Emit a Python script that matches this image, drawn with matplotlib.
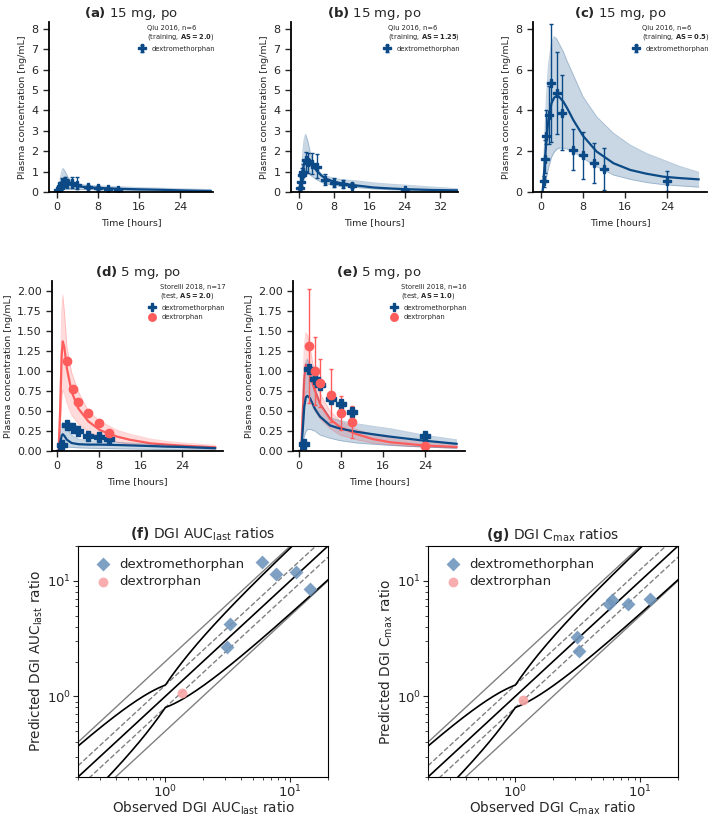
import numpy as np
import matplotlib
matplotlib.use("Agg")
from matplotlib import pyplot as plt

BLUE = "#0b4a86"
RED = "#ff5c5c"
TXT = "#262626"
plt.rcParams["text.color"] = TXT
plt.rcParams["axes.labelcolor"] = TXT
plt.rcParams["xtick.color"] = TXT
plt.rcParams["ytick.color"] = TXT

# ---- Qiu 2016, 15 mg po (dextromethorphan) ----
obs_t_qiu = [0.25, 0.5, 0.75, 1, 1.5, 2, 3, 4, 6, 8, 10, 12, 24]

# panel a (AS = 2.0)
sim_t_a = [0, 0.3, 0.6, 0.9, 1.2, 1.6, 2.2, 3, 4, 6, 8, 12, 16, 20, 24, 30]
sim_med_a = [0, 0.05, 0.2, 0.33, 0.4, 0.41, 0.38, 0.33, 0.28, 0.23, 0.2, 0.16, 0.13, 0.11, 0.08, 0.05]
sim_hi_a = [0, 0.15, 0.6, 1.0, 1.16, 1.0, 0.7, 0.5, 0.4, 0.33, 0.3, 0.26, 0.22, 0.19, 0.16, 0.12]
sim_lo_a = [0, 0.01, 0.05, 0.1, 0.13, 0.14, 0.14, 0.13, 0.13, 0.12, 0.11, 0.09, 0.07, 0.06, 0.04, 0.03]
obs_a = [0.12, 0.2, 0.3, 0.45, 0.55, 0.42, 0.45, 0.35, 0.24, 0.2, 0.15, 0.12]
obs_lo_a = [0.05, 0.08, 0.12, 0.2, 0.3, 0.22, 0.2, 0.15, 0.15, 0.12, 0.08, 0.06]
obs_hi_a = [0.2, 0.35, 0.5, 0.7, 0.75, 0.62, 0.72, 0.75, 0.33, 0.27, 0.2, 0.17]

# panel b (AS = 1.25)
sim_t_b = [0, 0.3, 0.6, 0.9, 1.2, 1.5, 2, 2.6, 3.2, 4, 5, 6, 8, 10, 13, 17, 21, 24, 30, 36]
sim_med_b = [0, 0.15, 0.6, 1.1, 1.45, 1.58, 1.55, 1.42, 1.25, 1.05, 0.82, 0.66, 0.5, 0.41, 0.32, 0.22, 0.17, 0.14, 0.1, 0.08]
sim_hi_b = [0, 0.4, 1.2, 2.1, 2.65, 2.83, 2.5, 1.9, 1.45, 1.15, 0.92, 0.8, 0.67, 0.6, 0.55, 0.45, 0.38, 0.34, 0.25, 0.16]
sim_lo_b = [0, 0.05, 0.2, 0.45, 0.7, 0.85, 0.9, 0.82, 0.72, 0.6, 0.48, 0.4, 0.32, 0.27, 0.22, 0.15, 0.11, 0.09, 0.06, 0.04]
obs_b = [0.2, 0.5, 0.85, 1.0, 1.55, 1.45, 1.37, 1.22, 0.59, 0.45, 0.38, 0.3, 0.12]
obs_lo_b = [0.1, 0.3, 0.55, 0.75, 1.0, 0.95, 0.9, 0.7, 0.35, 0.25, 0.2, 0.18, 0.07]
obs_hi_b = [0.3, 0.75, 1.2, 1.35, 1.95, 1.9, 1.9, 1.85, 0.9, 0.7, 0.6, 0.45, 0.17]

# panel c (AS = 0.5)
sim_t_c = [0, 0.3, 0.5, 0.75, 1, 1.4, 2, 2.5, 3, 3.5, 4.25, 5, 6.15, 8, 10.6, 13.8, 17, 20, 23.3, 26.5, 30]
sim_med_c = [0, 0, 0.6, 1.57, 2.4, 3.53, 4.35, 4.62, 4.72, 4.65, 4.43, 4.1, 3.53, 2.75, 1.98, 1.41, 1.08, 0.9, 0.75, 0.68, 0.62]
sim_hi_c = [0, 0, 1.4, 3.0, 4.5, 6.2, 7.3, 7.62, 7.5, 7.25, 6.88, 6.4, 5.74, 4.67, 3.69, 2.88, 2.3, 1.9, 1.57, 1.25, 0.97]
sim_lo_c = [0, 0, 0.15, 0.35, 0.65, 1.15, 1.7, 1.95, 2.1, 2.15, 2.15, 2.1, 1.98, 1.65, 1.24, 0.83, 0.62, 0.47, 0.36, 0.3, 0.24]
obs_c = [0.52, 1.63, 2.72, 3.77, 5.33, 4.84, 3.89, 2.07, 1.8, 1.44, 1.14, 0.55]
obs_lo_c = [0.25, 0.95, 2.35, 2.35, 2.47, 2.84, 2.06, 1.08, 0.64, 0.46, 0.1, 0.03]
obs_hi_c = [0.8, 2.55, 4.0, 5.2, 8.23, 6.86, 5.73, 3.09, 2.96, 2.39, 2.17, 1.04]

# ---- Storelli 2018, 5 mg po ----
# panel d (AS = 2.0)
sim_t_d = [0, 0.3, 0.6, 0.9, 1.1, 1.4, 1.9, 2.8, 4.1, 6, 8.25, 11.5, 14, 17.9, 21, 24.2, 30.3]
dxo_med_d = [0, 0, 0.5, 1.2, 1.37, 1.3, 1.03, 0.74, 0.53, 0.37, 0.26, 0.18, 0.14, 0.096, 0.08, 0.066, 0.046]
dxo_hi_d = [0, 0, 0.8, 1.75, 1.95, 1.75, 1.3, 0.98, 0.74, 0.5, 0.37, 0.26, 0.21, 0.15, 0.12, 0.1, 0.07]
dxo_lo_d = [0, 0, 0.25, 0.65, 0.76, 0.72, 0.6, 0.45, 0.34, 0.24, 0.17, 0.11, 0.085, 0.06, 0.05, 0.04, 0.025]
dxm_med_d = [0, 0, 0.1, 0.19, 0.21, 0.19, 0.14, 0.1, 0.085, 0.08, 0.08, 0.075, 0.07, 0.062, 0.055, 0.05, 0.035]
dxm_hi_d = [0, 0, 0.18, 0.33, 0.36, 0.34, 0.28, 0.2, 0.15, 0.13, 0.12, 0.11, 0.1, 0.085, 0.075, 0.065, 0.045]
dxm_lo_d = [0, 0, 0.03, 0.07, 0.08, 0.07, 0.05, 0.045, 0.04, 0.035, 0.032, 0.028, 0.025, 0.02, 0.017, 0.014, 0.01]
obs_t_dxm_d = [1, 2, 3, 4, 6, 8, 10]
obs_dxm_d = [0.07, 0.33, 0.29, 0.25, 0.19, 0.175, 0.15]
obs_t_dxo_d = [2, 3, 4, 6, 8, 10]
obs_dxo_d = [1.13, 0.78, 0.61, 0.48, 0.35, 0.22]

# panel e (AS = 1.0)
sim_t_e = [0, 0.4, 0.7, 1.0, 1.3, 1.6, 2.1, 3, 4, 5.9, 7.8, 11, 14, 17.3, 20.5, 23.7, 30]
dxo_med_e = [0, 0, 0.45, 0.9, 1.08, 1.05, 0.95, 0.76, 0.59, 0.4, 0.3, 0.21, 0.15, 0.11, 0.09, 0.07, 0.05]
dxo_hi_e = [0, 0, 0.7, 1.3, 1.48, 1.45, 1.3, 0.95, 0.72, 0.5, 0.38, 0.27, 0.21, 0.16, 0.13, 0.11, 0.08]
dxo_lo_e = [0, 0, 0.2, 0.55, 0.72, 0.75, 0.65, 0.5, 0.4, 0.28, 0.2, 0.14, 0.1, 0.08, 0.06, 0.05, 0.035]
dxm_med_e = [0, 0, 0.25, 0.55, 0.67, 0.69, 0.66, 0.53, 0.43, 0.32, 0.28, 0.24, 0.21, 0.18, 0.155, 0.13, 0.09]
dxm_hi_e = [0, 0, 0.5, 0.95, 1.12, 1.15, 1.05, 0.8, 0.6, 0.42, 0.38, 0.34, 0.31, 0.28, 0.24, 0.2, 0.14]
dxm_lo_e = [0, 0, 0.08, 0.18, 0.24, 0.27, 0.27, 0.25, 0.2, 0.16, 0.13, 0.1, 0.085, 0.07, 0.06, 0.05, 0.035]
obs_t_dxm_e = [1, 2, 3, 4, 6, 8, 10, 24]
obs_dxm_e = [0.09, 1.02, 0.90, 0.82, 0.65, 0.59, 0.49, 0.19]
obs_t_dxo_e = [2, 3, 4, 6, 8, 10, 24]
obs_dxo_e = [1.31, 1.0, 0.85, 0.70, 0.47, 0.36, 0.06]
obs_lo_dxo_e = [0.6, 0.57, 0.55, 0.36, 0.26, 0.16, 0.05]
obs_hi_dxo_e = [2.03, 1.43, 1.15, 1.03, 0.69, 0.56, 0.07]

# ---- DGI ratios (observed, predicted) ----
auc_obs_dxm = [5.9, 7.7, 11.0, 14.4, 3.3, 3.13]
auc_pred_dxm = [14.6, 11.4, 12.0, 8.5, 4.2, 2.69]
auc_obs_dxo = [1.35]
auc_pred_dxo = [1.07]
cmax_obs_dxm = [5.6, 5.9, 8.0, 11.9, 3.09, 3.25]
cmax_pred_dxm = [6.3, 6.8, 6.25, 6.9, 3.24, 2.47]
cmax_obs_dxo = [1.16]
cmax_pred_dxo = [0.93]


def style_pk(ax, xlim, ylim, xticks, yticks, title):
    ax.set_xlim(xlim)
    ax.set_ylim(ylim)
    ax.set_xticks(xticks)
    ax.set_yticks(yticks)
    for s in ["top", "right"]:
        ax.spines[s].set_visible(False)
    for s in ["left", "bottom"]:
        ax.spines[s].set_linewidth(1.3)
    ax.tick_params(direction="out", length=4, width=1, labelsize=8, pad=3.5)
    ax.set_xlabel("Time [hours]", fontsize=6.8, labelpad=4)
    ax.set_ylabel("Plasma concentration [ng/mL]", fontsize=6.8, labelpad=3)
    ax.set_title(title, fontsize=9.5, pad=3)


def band(ax, t, med, lo, hi, color):
    ax.fill_between(t, lo, hi, color=color, alpha=0.22, lw=0)
    ax.plot(t, lo, color=color, alpha=0.25, lw=0.7)
    ax.plot(t, hi, color=color, alpha=0.25, lw=0.7)
    ax.plot(t, med, color=color, lw=1.6)


def errpts(ax, t, y, lo, hi, color, marker, label, ms):
    if lo is None:
        yerr = None
    else:
        yerr = [np.array(y) - np.array(lo), np.array(hi) - np.array(y)]
    ax.errorbar(t, y, yerr=yerr, fmt=marker, color=color, ms=ms, elinewidth=1,
                capsize=1.5, capthick=1, label=label)


def pk_legend(ax, title):
    ax.legend(title=title, loc="upper right", bbox_to_anchor=(1.04, 1.01),
              fontsize=4.9, title_fontsize=4.9, frameon=False, alignment="right",
              handletextpad=0.4, borderaxespad=0.3, markerscale=0.9)


fig = plt.figure(figsize=(7.09, 8.16), dpi=100)
W, H = 709.0, 816.0


def add_ax(l, r, t, b):
    return fig.add_axes([l / W, (H - b) / H, (r - l) / W, (b - t) / H])


# (a)
ax = add_ax(49, 213, 22, 192)
band(ax, sim_t_a, sim_med_a, sim_lo_a, sim_hi_a, BLUE)
errpts(ax, obs_t_qiu[:12], obs_a, obs_lo_a, obs_hi_a, BLUE, "P", "dextromethorphan", 6)
style_pk(ax, (-1.56, 30.44), (0, 8.33), [0, 8, 16, 24], range(0, 9), r"$\bf{(a)}$ 15 mg, po")
pk_legend(ax, "Qiu 2016, n=6\n(training, $\\bf{AS=2.0}$)")

# (b)
ax = add_ax(291, 458, 22, 192)
band(ax, sim_t_b, sim_med_b, sim_lo_b, sim_hi_b, BLUE)
errpts(ax, obs_t_qiu, obs_b, obs_lo_b, obs_hi_b, BLUE, "P", "dextromethorphan", 6)
style_pk(ax, (-1.82, 36.1), (0, 8.33), [0, 8, 16, 24, 32], range(0, 9), r"$\bf{(b)}$ 15 mg, po")
pk_legend(ax, "Qiu 2016, n=6\n(training, $\\bf{AS=1.25}$)")

# (c)
ax = add_ax(533, 707, 22, 192)
band(ax, sim_t_c, sim_med_c, sim_lo_c, sim_hi_c, BLUE)
errpts(ax, obs_t_qiu[1:], obs_c, obs_lo_c, obs_hi_c, BLUE, "P", "dextromethorphan", 6)
style_pk(ax, (-1.52, 31.6), (0, 8.33), [0, 8, 16, 24], [0, 2, 4, 6, 8], r"$\bf{(c)}$ 15 mg, po")
pk_legend(ax, "Qiu 2016, n=6\n(training, $\\bf{AS=0.5}$)")

# (d)
ax = add_ax(52, 223, 281, 451)
band(ax, sim_t_d, dxo_med_d, dxo_lo_d, dxo_hi_d, RED)
band(ax, sim_t_d, dxm_med_d, dxm_lo_d, dxm_hi_d, BLUE)
errpts(ax, obs_t_dxm_d, obs_dxm_d, None, None, BLUE, "P", "dextromethorphan", 7)
errpts(ax, obs_t_dxo_d, obs_dxo_d, None, None, RED, "o", "dextrorphan", 6)
style_pk(ax, (-0.96, 31.8), (0, 2.125), [0, 8, 16, 24], np.arange(0, 2.01, 0.25), r"$\bf{(d)}$ 5 mg, po")
ax.yaxis.set_major_formatter(matplotlib.ticker.FormatStrFormatter("%.2f"))
pk_legend(ax, "Storelli 2018, n=17\n(test, $\\bf{AS=2.0}$)")

# (e)
ax = add_ax(293, 465, 281, 451)
band(ax, sim_t_e, dxo_med_e, dxo_lo_e, dxo_hi_e, RED)
band(ax, sim_t_e, dxm_med_e, dxm_lo_e, dxm_hi_e, BLUE)
errpts(ax, obs_t_dxm_e, obs_dxm_e, None, None, BLUE, "P", "dextromethorphan", 7)
errpts(ax, obs_t_dxo_e, obs_dxo_e, obs_lo_dxo_e, obs_hi_dxo_e, RED, "o", "dextrorphan", 6)
style_pk(ax, (-1.14, 31.6), (0, 2.125), [0, 8, 16, 24], np.arange(0, 2.01, 0.25), r"$\bf{(e)}$ 5 mg, po")
ax.yaxis.set_major_formatter(matplotlib.ticker.FormatStrFormatter("%.2f"))
pk_legend(ax, "Storelli 2018, n=16\n(test, $\\bf{AS=1.0}$)")


def ratio_plot(ax, obs_dxm, pred_dxm, obs_dxo, pred_dxo, title, xlabel, ylabel):
    # guide lines: 2-fold, 1.25-fold, identity and Guest et al. limits
    x = np.logspace(np.log10(0.2), np.log10(20), 300)
    ax.plot(x, 2 * x, color="gray", lw=1)
    ax.plot(x, x / 2, color="gray", lw=1)
    ax.plot(x, 1.25 * x, color="gray", lw=1, ls="--")
    ax.plot(x, 0.8 * x, color="gray", lw=1, ls="--")
    ax.plot(x, x, color="black", lw=1.2)
    r = np.where(x >= 1, x, 1 / x)
    lim = (1.25 + 2 * (r - 1)) / r
    ax.plot(x, x * lim, color="black", lw=1.2)
    ax.plot(x, x / lim, color="black", lw=1.2)
    ax.scatter(obs_dxm, pred_dxm, marker="D", s=50, color="#7096bd", alpha=0.9,
               label="dextromethorphan", zorder=3, lw=0)
    ax.scatter(obs_dxo, pred_dxo, marker="o", s=50, color="#f8a5a5", alpha=0.9,
               label="dextrorphan", zorder=3, lw=0)
    ax.set_xscale("log")
    ax.set_yscale("log")
    ax.set_xlim(0.2, 20)
    ax.set_ylim(0.2, 20)
    ax.tick_params(labelsize=9.5, pad=1.5)
    ax.set_xlabel(xlabel, fontsize=9.8, labelpad=-1)
    ax.set_ylabel(ylabel, fontsize=9.8, labelpad=1)
    ax.set_title(title, fontsize=10, pad=5)
    ax.legend(loc="upper left", fontsize=9.5, frameon=False, handletextpad=0.2,
              borderaxespad=0.5, labelspacing=0.35)


ax = add_ax(78, 328, 546, 777)
ratio_plot(ax, auc_obs_dxm, auc_pred_dxm, auc_obs_dxo, auc_pred_dxo,
           r"$\bf{(f)}$ DGI AUC$_{\rm last}$ ratios",
           r"Observed DGI AUC$_{\rm last}$ ratio", r"Predicted DGI AUC$_{\rm last}$ ratio")

ax = add_ax(428, 678, 546, 777)
ratio_plot(ax, cmax_obs_dxm, cmax_pred_dxm, cmax_obs_dxo, cmax_pred_dxo,
           r"$\bf{(g)}$ DGI C$_{\rm max}$ ratios",
           r"Observed DGI C$_{\rm max}$ ratio", r"Predicted DGI C$_{\rm max}$ ratio")

fig.savefig("out.png", dpi=100)
